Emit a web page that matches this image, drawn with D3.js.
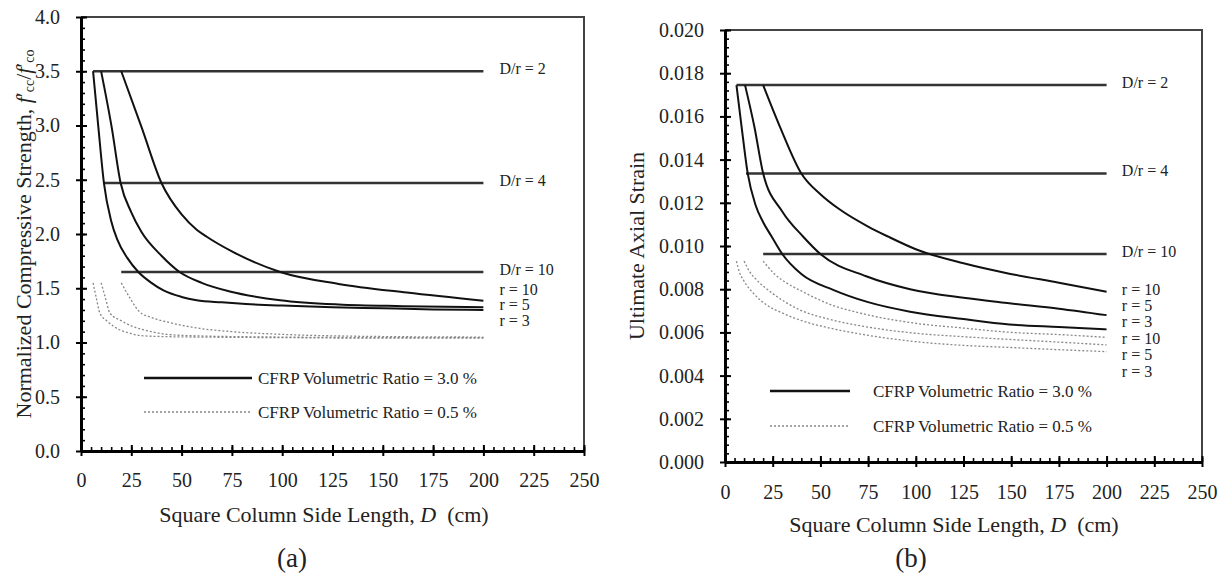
<!DOCTYPE html>
<html>
<head>
<meta charset="utf-8">
<script src="https://cdn.jsdelivr.net/npm/d3@7"></script>
<style>
  body { margin: 0; background: #fff; }
  svg text { font-family: "Liberation Serif"; fill: #222; }
</style>
</head>
<body>
<svg id="chart" width="1226" height="584"></svg>
<script>
// ---- data ----
var sideTicks = [0, 25, 50, 75, 100, 125, 150, 175, 200, 225, 250];
var strengthTicks = [0, 0.5, 1.0, 1.5, 2.0, 2.5, 3.0, 3.5, 4.0];
var strainTicks = [0, 0.002, 0.004, 0.006, 0.008, 0.010, 0.012, 0.014, 0.016, 0.018, 0.020];

var refLabels = ["D/r = 2", "D/r = 4", "D/r = 10"];
var refStartD = [6, 11, 20];
var refEndD = 200;
var strengthRef = [3.5, 2.47, 1.65];
var strainRef = [0.01745, 0.01336, 0.00963];

var radiusLabels = ["r = 10", "r = 5", "r = 3"];
var legendLabels = ["CFRP Volumetric Ratio = 3.0 %", "CFRP Volumetric Ratio = 0.5 %"];

// (a) normalized strength, CFRP 3.0 %
var strengthHighR10 = [[20, 3.5], [30, 2.99], [40, 2.47], [50, 2.18], [57.5, 2.04], [62.5, 1.975], [75, 1.84], [99, 1.65], [128, 1.54], [162, 1.46], [200, 1.385]];
var strengthHighR5 = [[10, 3.5], [15.2, 2.99], [19.7, 2.47], [25, 2.2], [30, 2.02], [40, 1.8], [49, 1.65], [60, 1.55], [74, 1.47], [99, 1.39], [128, 1.35], [160, 1.335], [200, 1.325]];
var strengthHighR3 = [[6, 3.5], [8.6, 2.99], [11.4, 2.47], [15, 2.12], [18, 1.95], [23, 1.78], [28.5, 1.65], [35, 1.55], [41, 1.48], [50, 1.42], [57.5, 1.39], [70, 1.37], [82, 1.355], [100, 1.34], [125, 1.325], [150, 1.315], [175, 1.305], [200, 1.30]];
// (a) normalized strength, CFRP 0.5 %
var strengthLowR10 = [[20, 1.55], [24, 1.42], [29, 1.284], [35, 1.23], [42.6, 1.19], [59, 1.13], [75, 1.10], [100, 1.075], [150, 1.055], [200, 1.05]];
var strengthLowR5 = [[10, 1.55], [12, 1.42], [14.4, 1.27], [20, 1.2], [26, 1.146], [35, 1.10], [42.6, 1.075], [60, 1.06], [100, 1.05], [150, 1.045], [200, 1.045]];
var strengthLowR3 = [[6, 1.55], [7.5, 1.42], [9.4, 1.27], [12.8, 1.20], [19.4, 1.115], [24.4, 1.085], [29, 1.065], [40, 1.055], [60, 1.05], [100, 1.045], [150, 1.04], [200, 1.04]];

// (b) ultimate axial strain, CFRP 3.0 %
var strainHighR10 = [[20, 0.01745], [28.8, 0.01552], [40, 0.01336], [50, 0.0124], [60, 0.0117], [75, 0.0109], [85.6, 0.01043], [100, 0.00985], [125, 0.0092], [149, 0.00872], [175, 0.0083], [200, 0.00788]];
var strainHighR5 = [[10.5, 0.01745], [15.4, 0.01552], [20, 0.01336], [30, 0.0116], [41, 0.01043], [50, 0.00963], [74, 0.0086], [97, 0.0080], [125, 0.0076], [149, 0.00735], [175, 0.0071], [200, 0.0068]];
var strainHighR3 = [[6, 0.01745], [8.7, 0.01552], [11.9, 0.01336], [16, 0.0119], [20, 0.0111], [24.5, 0.01043], [30, 0.00963], [40, 0.0087], [57, 0.00796], [75, 0.0074], [97, 0.00696], [125, 0.00662], [149, 0.00637], [175, 0.00625], [200, 0.00614]];
// (b) ultimate axial strain, CFRP 0.5 %
var strainLowR10 = [[20, 0.0093], [26, 0.0087], [33, 0.00825], [39.3, 0.00795], [55, 0.0073], [74, 0.00683], [100, 0.00642], [125, 0.0062], [150, 0.006], [175, 0.0059], [200, 0.00577]];
var strainLowR5 = [[10, 0.0093], [13, 0.0088], [16.6, 0.00843], [25, 0.0078], [39.3, 0.00704], [55, 0.0066], [74, 0.00626], [100, 0.00596], [125, 0.0058], [150, 0.00567], [175, 0.00555], [200, 0.00542]];
var strainLowR3 = [[6, 0.0093], [7.5, 0.0088], [9.6, 0.00843], [15, 0.0078], [21.8, 0.00727], [30, 0.0069], [39.3, 0.00657], [55, 0.0062], [74, 0.00588], [100, 0.00557], [125, 0.0054], [150, 0.0053], [175, 0.0052], [200, 0.00511]];

var serif = "Liberation Serif";
var svg = d3.select("#chart");

function drawPanel(p) {
	var g = svg.append("g").attr("font-family", serif);
	var x = d3.scaleLinear().domain([0, 250]).range([p.left, p.right]);
	var y = d3.scaleLinear().domain([0, p.yMax]).range([p.bottom, p.top]);

	// top / right frame
	g.append("path")
		.attr("d", "M" + p.left + "," + p.top + "H" + p.right + "V" + p.bottom)
		.attr("fill", "none").attr("stroke", "#444").attr("stroke-width", 2);

	// x axis: minor inward, major crossing
	var xMinor = d3.range(0, 251, 5);
	g.append("g").attr("transform", "translate(0," + p.bottom + ")")
		.call(d3.axisBottom(x).tickValues(xMinor).tickSize(-4).tickFormat(""))
		.call(function(s) { s.select(".domain").remove(); s.selectAll("line").attr("stroke-width", 1.6); });
	g.append("g").attr("transform", "translate(0," + p.bottom + ")")
		.call(d3.axisBottom(x).tickValues(sideTicks).tickSize(-6).tickFormat(""))
		.call(function(s) { s.select(".domain").remove(); s.selectAll("line").attr("stroke-width", 2); });
	var xAxis = g.append("g").attr("transform", "translate(0," + p.bottom + ")")
		.call(d3.axisBottom(x).tickValues(sideTicks).tickSizeInner(5).tickSizeOuter(0).tickPadding(p.xPad));
	xAxis.attr("font-family", serif);
	xAxis.select(".domain").attr("stroke-width", 3);
	xAxis.selectAll("line").attr("stroke-width", 2);
	xAxis.selectAll("text").attr("font-family", serif).style("font-size", "20px").attr("fill", "#222");

	// y axis
	var yMinor = d3.range(0, p.yMax * 1.0001, p.yMinorStep);
	g.append("g").attr("transform", "translate(" + p.left + ",0)")
		.call(d3.axisLeft(y).tickValues(yMinor).tickSize(-4).tickFormat(""))
		.call(function(s) { s.select(".domain").remove(); s.selectAll("line").attr("stroke-width", 1.6); });
	g.append("g").attr("transform", "translate(" + p.left + ",0)")
		.call(d3.axisLeft(y).tickValues(p.yTicks).tickSize(-6).tickFormat(""))
		.call(function(s) { s.select(".domain").remove(); s.selectAll("line").attr("stroke-width", 2); });
	var yAxis = g.append("g").attr("transform", "translate(" + p.left + ",0)")
		.call(d3.axisLeft(y).tickValues(p.yTicks).tickSizeInner(5).tickSizeOuter(0).tickPadding(16).tickFormat(d3.format(p.yFormat)));
	yAxis.attr("font-family", serif);
	yAxis.select(".domain").attr("stroke-width", 3);
	yAxis.selectAll("line").attr("stroke-width", 2);
	yAxis.selectAll("text").attr("font-family", serif).style("font-size", "20px").attr("fill", "#222");

	// reference lines D/r
	p.refValues.forEach(function(v, i) {
		g.append("line")
			.attr("x1", x(refStartD[i])).attr("x2", x(refEndD))
			.attr("y1", y(v)).attr("y2", y(v))
			.attr("stroke", "#333").attr("stroke-width", 2.5);
		g.append("text")
			.attr("x", x(208)).attr("y", y(v) + 3)
			.style("font-size", "16px")
			.text(refLabels[i]);
	});

	var line = d3.line()
		.x(function(d) { return x(d[0]); })
		.y(function(d) { return y(d[1]); })
		.curve(d3.curveMonotoneX);

	p.low.forEach(function(s) {
		g.append("path").datum(s).attr("d", line)
			.attr("fill", "none").attr("stroke", "#888")
			.attr("stroke-width", 1.3).attr("stroke-dasharray", "2,2");
	});
	p.high.forEach(function(s) {
		g.append("path").datum(s).attr("d", line)
			.attr("fill", "none").attr("stroke", "#111").attr("stroke-width", 2);
	});

	// r labels
	var rl = p.showLow ? radiusLabels.concat(radiusLabels) : radiusLabels;
	rl.forEach(function(t, i) {
		g.append("text")
			.attr("x", x(208)).attr("y", p.labelTop + i * p.labelStep)
			.style("font-size", "16px")
			.text(t);
	});

	// legend
	[0, 1].forEach(function(i) {
		var ly = p.legendY[i];
		g.append("line")
			.attr("x1", p.legendX[0]).attr("x2", p.legendX[1])
			.attr("y1", ly).attr("y2", ly)
			.attr("stroke", i === 0 ? "#111" : "#888")
			.attr("stroke-width", i === 0 ? 2.5 : 1.3)
			.attr("stroke-dasharray", i === 0 ? null : "2,2");
		g.append("text")
			.attr("x", p.legendTextX).attr("y", ly + 6)
			.style("font-size", "17px")
			.text(legendLabels[i]);
	});

	// x title
	var xt = g.append("text")
		.attr("x", p.xTitleX).attr("y", p.xTitleY)
		.attr("text-anchor", "middle")
		.style("font-size", "22px");
	xt.append("tspan").text("Square Column Side Length, ");
	xt.append("tspan").style("font-style", "italic").text("D");
	xt.append("tspan").text("\u00a0 (cm)");

	// y title
	var yt = g.append("text")
		.attr("transform", "translate(" + p.yTitleX + "," + ((p.top + p.bottom) / 2) + ") rotate(-90)")
		.attr("text-anchor", "middle")
		.style("font-size", "22px");
	p.yTitle(yt);

	// panel tag
	g.append("text")
		.attr("x", p.tagX).attr("y", 567)
		.attr("text-anchor", "middle")
		.style("font-size", "27px")
		.text(p.tag);
}

drawPanel({
	left: 81, right: 584, top: 17, bottom: 451,
	yMax: 4.0, yTicks: strengthTicks, yFormat: ".1f", yMinorStep: 0.1,
	xPad: 17,
	refValues: strengthRef,
	high: [strengthHighR10, strengthHighR5, strengthHighR3],
	low: [strengthLowR10, strengthLowR5, strengthLowR3],
	showLow: false, labelTop: 294.5, labelStep: 15.5,
	legendX: [144, 252], legendY: [378, 412], legendTextX: 258,
	xTitleX: 324, xTitleY: 522,
	yTitleX: 31,
	yTitle: function(t) {
		t.append("tspan").text("Normalized Compressive Strength, ");
		t.append("tspan").style("font-style", "italic").text("f");
		t.append("tspan").text("\u2032");
		t.append("tspan").style("font-size", "14px").attr("dy", 3).text("cc");
		t.append("tspan").attr("dy", -3).text("/");
		t.append("tspan").style("font-style", "italic").text("f");
		t.append("tspan").text("\u2032");
		t.append("tspan").style("font-size", "14px").attr("dy", 3).text("co");
	},
	tag: "(a)", tagX: 292
});

drawPanel({
	left: 725, right: 1202, top: 30, bottom: 462,
	yMax: 0.020, yTicks: strainTicks, yFormat: ".3f", yMinorStep: 0.0004,
	xPad: 18,
	refValues: strainRef,
	high: [strainHighR10, strainHighR5, strainHighR3],
	low: [strainLowR10, strainLowR5, strainLowR3],
	showLow: true, labelTop: 294.5, labelStep: 16.4,
	legendX: [770, 850], legendY: [391, 426], legendTextX: 873,
	xTitleX: 954, xTitleY: 532,
	yTitleX: 644,
	yTitle: function(t) { t.text("Ultimate Axial Strain"); },
	tag: "(b)", tagX: 911
});
</script>
</body>
</html>
